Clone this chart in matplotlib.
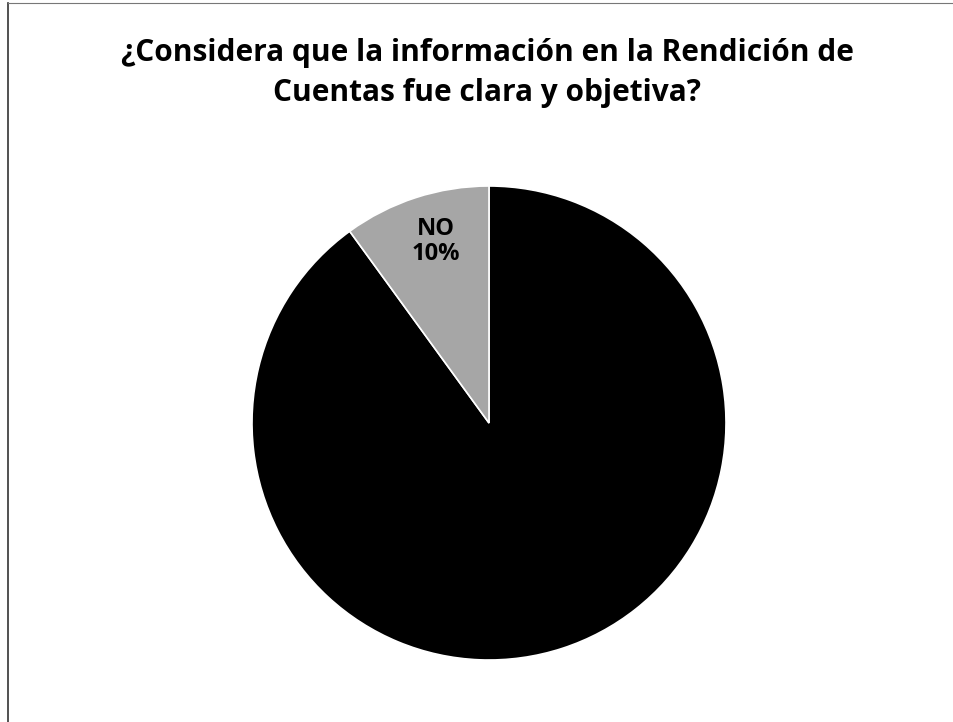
import matplotlib
matplotlib.use('Agg')
import matplotlib.pyplot as plt

# data
labels = ['SI', 'NO']
values = [90, 10]
colors = ['#000000', '#a6a6a6']

plt.rcParams['font.family'] = ['Open Sans', 'DejaVu Sans']

fig = plt.figure(figsize=(9.54, 7.22), dpi=100)
fig.patch.set_facecolor('white')

# pie axes, placed so the circle sits where it is in the original
ax = fig.add_axes([252/954, 62/722, 474/954, 474/722])
wedges, _ = ax.pie(values, colors=colors, startangle=90, counterclock=False,
                   wedgeprops=dict(edgecolor='white', linewidth=1.2))
ax.set_xlim(-1, 1)
ax.set_ylim(-1, 1)
ax.set_aspect('equal')
ax.axis('off')

# data labels (the SI one is black on black, as in the original)
ax.text(-0.225, 0.765, '%s\n%d%%' % (labels[1], values[1]), ha='center', va='center',
        fontsize=17, fontweight='bold', color='black', linespacing=1.05)
ax.text(0.25, -0.55, '%s\n%d%%' % (labels[0], values[0]), ha='center', va='center',
        fontsize=17, fontweight='bold', color='black', linespacing=1.05)

fig.text(0.511, 1 - 73/722,
         '¿Considera que la información en la Rendición de\nCuentas fue clara y objetiva?',
         ha='center', va='center', fontsize=21.5, fontweight='bold', linespacing=1.45)

# chart area border (only top and left visible in the scan)
fig.add_artist(plt.Line2D([8/954, 8/954], [0, 1 - 3/722], color='#333333', lw=1.2))
fig.add_artist(plt.Line2D([8/954, 1], [1 - 3/722, 1 - 3/722], color='#777777', lw=0.8))

fig.savefig('out.png', dpi=100, facecolor='white')
